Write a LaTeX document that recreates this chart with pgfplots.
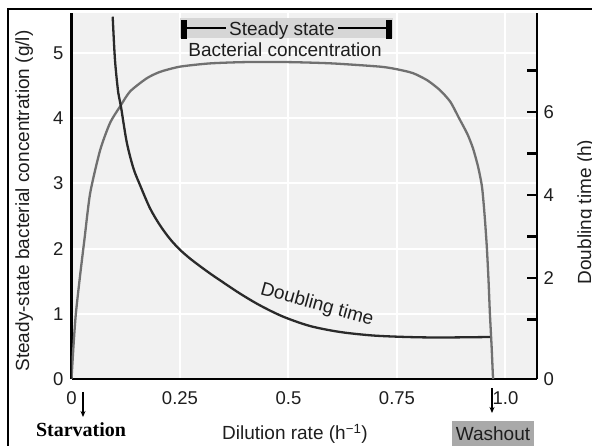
\documentclass[border=0pt]{standalone}
\usepackage{pgfplots}
\pgfplotsset{compat=1.18}
\usetikzlibrary{arrows.meta}
\usepackage{fontspec}
\setmainfont{Liberation Sans}
\newfontfamily\serifbf{Liberation Serif}[BoldFont={Liberation Serif Bold}]
\definecolor{bgc}{HTML}{F1F1F1}
\definecolor{conc}{HTML}{707070}
\definecolor{dbl}{HTML}{2A2A2A}
\definecolor{ssbox}{HTML}{D6D6D6}
\definecolor{wbox}{HTML}{A9A9A9}
\definecolor{txt}{HTML}{1E1E1E}
\newcommand{\ff}{\fontsize{19}{22}\selectfont}
\newcommand{\tf}{\fontsize{18.5}{21}\selectfont}

\pgfplotstableread{
x y
0.000 0.00
0.005 0.55
0.010 1.00
0.020 1.60
0.030 2.15
0.043 2.85
0.066 3.51
0.089 3.93
0.112 4.18
0.135 4.41
0.173 4.61
0.204 4.71
0.250 4.79
0.319 4.84
0.400 4.86
0.500 4.86
0.600 4.84
0.711 4.79
0.750 4.75
0.787 4.69
0.820 4.58
0.849 4.43
0.873 4.25
0.893 4.00
0.912 3.76
0.925 3.54
0.937 3.25
0.946 2.94
0.952 2.50
0.957 2.02
0.961 1.50
0.964 1.01
0.968 0.50
0.971 0.05
0.972 0.00
}\conctable

\pgfplotstableread{
x h
0.0949 8.296
0.1002 7.253
0.1078 6.458
0.1141 6.120
0.1272 5.277
0.1424 4.651
0.1578 4.241
0.1809 3.680
0.2039 3.270
0.2270 2.940
0.2500 2.680
0.2730 2.470
0.2961 2.285
0.3191 2.110
0.3422 1.945
0.3882 1.625
0.4343 1.340
0.4873 1.070
0.5495 0.843
0.6187 0.699
0.6947 0.614
0.7730 0.578
0.8491 0.566
0.9643 0.578
}\dbltable

\begin{document}
\begin{tikzpicture}[x=1pt,y=1pt]
\useasboundingbox (0,0) rectangle (592,446);
\fill[white] (0,0) rectangle (592,446);
\begin{axis}[
  at={(71.5pt,67pt)}, anchor=south west, scale only axis,
  width=465.5pt, height=366pt,
  xmin=0, xmax=1.0726, ymin=0, ymax=5.613,
  axis background/.style={fill=bgc},
  axis x line*=bottom, axis y line*=left,
  axis line style={line width=2.5pt, black, -},
  xtick={0,0.25,0.5,0.75,1}, xticklabels={0,0.25,0.5,0.75,1.0},
  ytick={0,1,2,3,4,5},
  major tick length=0pt,
  grid=major, major grid style={white, line width=2pt},
  tick label style={font=\tf, text=txt},
  /pgf/number format/assume math mode=true,
  xticklabel style={anchor=base, yshift=-26pt},
  yticklabel style={xshift=-4.5pt},
]
\addplot[conc, line width=2.3pt, smooth, tension=0.4] table[x=x,y=y] {\conctable};
\end{axis}
\begin{axis}[
  at={(71.5pt,67pt)}, anchor=south west, scale only axis,
  width=465.5pt, height=366pt,
  xmin=0, xmax=1.0726, ymin=-0.434, ymax=8.386,
  axis y line*=right, axis x line=none,
  axis line style={line width=2.5pt, black, -},
  ytick={1,2,3,4,5,6,7}, yticklabels={,2,,4,,6,},
  extra y ticks={-0.434}, extra y tick labels={0},
  extra y tick style={major tick length=0pt},
  tick align=inside, major tick length=10pt,
  ytick style={line width=2.5pt, black},
  tick label style={font=\tf, text=txt},
  /pgf/number format/assume math mode=true,
  yticklabel style={xshift=3pt},
]
\addplot[dbl, line width=2.3pt, smooth, tension=0.5] table[x=x,y=h] {\dbltable};
\end{axis}
% outer frame
\draw[line width=2.5pt, black] (8,-10) -- (8,437) -- (600,437);
% axis titles
\node[rotate=90, anchor=base, font=\ff, text=txt] at (29,245) {Steady-state bacterial concentration (g/l)};
\node[rotate=90, anchor=base, font=\ff, text=txt] at (591,234) {Doubling time (h)};
\node[anchor=base, font=\ff, text=txt] at (295,6) {Dilution rate (h\textsuperscript{\char"2212 1})};
% steady state bar
\fill[ssbox] (180,408) rectangle (393,428);
\fill[black] (181,407) rectangle (187,426);
\fill[black] (386,407) rectangle (392,426);
\draw[black, line width=1.5pt] (187,418) -- (226,418);
\draw[black, line width=1.5pt] (338,418) -- (386,418);
\node[anchor=base, font=\ff, text=txt] at (282,410) {Steady state};
\node[anchor=base, font=\ff, text=txt] at (285,389.3) {Bacterial concentration};
\node[anchor=center, rotate=-15.5, font=\ff, text=txt] at (317,141) {Doubling time};
% starvation / washout
\draw[black, line width=1.3pt, -{Stealth[length=6pt,width=5pt]}] (83,54) -- (83,29);
\draw[black, line width=1.3pt, -{Stealth[length=6pt,width=5pt]}] (492,58) -- (492,33);
\node[anchor=base, font=\serifbf\bfseries\fontsize{20}{22}\selectfont] at (81,9.3) {Starvation};
\fill[wbox] (452,0) rectangle (534,25);
\node[anchor=base, font=\ff, text=txt] at (493,5.3) {Washout};
\end{tikzpicture}
\end{document}
